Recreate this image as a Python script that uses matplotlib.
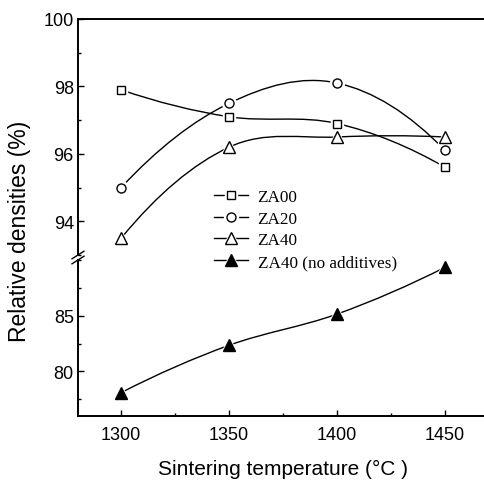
import numpy as np
import matplotlib
matplotlib.use("Agg")
import matplotlib.pyplot as plt
from matplotlib.path import Path
from matplotlib.patches import PathPatch
from matplotlib.lines import Line2D
from matplotlib.legend_handler import HandlerTuple
from matplotlib.ticker import MultipleLocator

# sintering temperature (C) and relative density (%)
temps = [1300, 1350, 1400, 1450]
za00 = [97.9, 97.1, 96.9, 95.6]
za20 = [95.0, 97.5, 98.1, 96.1]
za40 = [93.5, 96.2, 96.5, 96.5]
za40_noadd = [78.1, 82.35, 85.15, 89.35]
labels = ["ZA00", "ZA20", "ZA40", "ZA40 (no additives)"]


def smooth_path(x, y):
    # cubic bezier through the data points (spline-like connecting line)
    x = np.asarray(x, float)
    y = np.asarray(y, float)
    n = len(x)
    m = np.zeros(n)
    m[1:-1] = (y[2:] - y[:-2]) / (x[2:] - x[:-2])
    m[0] = 2 * (y[1] - y[0]) / (x[1] - x[0]) - m[1]
    m[-1] = 2 * (y[-1] - y[-2]) / (x[-1] - x[-2]) - m[-2]
    verts = [(x[0], y[0])]
    codes = [Path.MOVETO]
    for i in range(n - 1):
        h = x[i + 1] - x[i]
        verts += [(x[i] + h / 3, y[i] + m[i] * h / 3),
                  (x[i + 1] - h / 3, y[i + 1] - m[i + 1] * h / 3),
                  (x[i + 1], y[i + 1])]
        codes += [Path.CURVE4] * 3
    return Path(verts, codes)


W, H = 484, 481
fig = plt.figure(figsize=(W / 100, H / 100), dpi=100)
left, right = 78 / W, 1.0
ax_top = fig.add_axes([left, 1 - 256 / H, right - left, 236 / H])
ax_bot = fig.add_axes([left, 1 - 417 / H, right - left, 156 / H])

sans = "Liberation Sans"
serif = "Liberation Serif"

series = [
    (ax_top, za00, "s", 5.5, "white"),
    (ax_top, za20, "o", 6.5, "white"),
    (ax_top, za40, "^", 8, "white"),
    (ax_bot, za40_noadd, "^", 8.5, "black"),
]

handles = []
for ax, vals, mk, ms, fc in series:
    ax.add_patch(PathPatch(smooth_path(temps, vals), fc="none", ec="black",
                           lw=1.0, zorder=2))
    ax.plot(temps, vals, ls="none", marker=mk, ms=ms + 3.5, mfc="white",
            mec="white", zorder=3)
    ax.plot(temps, vals, ls="none", marker=mk, ms=ms, mfc=fc, mec="black",
            mew=1.0, zorder=4)
    h1 = Line2D([], [], color="black", lw=1.0, marker=mk, ms=ms + 3.5,
                mfc="white", mec="white")
    h2 = Line2D([], [], ls="none", marker=mk, ms=ms, mfc=fc, mec="black", mew=1.0)
    handles.append((h1, h2))

for ax in (ax_top, ax_bot):
    ax.set_xlim(1280, 1468)
    ax.spines["right"].set_visible(False)
    for s in ax.spines.values():
        s.set_linewidth(1.4)
    ax.tick_params(which="both", direction="in", right=False, top=False,
                   labelsize=13, width=1.0, pad=3)
    ax.tick_params(which="major", length=4)
    ax.tick_params(which="minor", length=2.5)

ax_top.set_ylim(93, 100)
ax_top.set_yticks([94, 96, 98, 100])
ax_top.yaxis.set_minor_locator(MultipleLocator(1))
ax_top.spines["bottom"].set_visible(False)
ax_top.tick_params(axis="x", which="both", bottom=False, labelbottom=False)

ax_bot.set_ylim(76, 90)
ax_bot.set_yticks([80, 85])
ax_bot.yaxis.set_minor_locator(MultipleLocator(2.5))
ax_bot.spines["top"].set_visible(False)
ax_bot.set_xticks(temps)
ax_bot.xaxis.set_minor_locator(MultipleLocator(25))
ax_bot.tick_params(axis="x", pad=7)

for ax in (ax_top, ax_bot):
    for lab in ax.get_yticklabels() + ax.get_xticklabels():
        lab.set_fontfamily(sans)

# axis break marks
for yc in (256, 261):
    fig.add_artist(Line2D([(78 - 6) / W, (78 + 6) / W],
                          [1 - (yc + 3.8) / H, 1 - (yc - 3.8) / H],
                          color="black", lw=1.0, transform=fig.transFigure))

fig.legend(handles, labels, handler_map={tuple: HandlerTuple(ndivide=1)},
           loc="upper left", bbox_to_anchor=(214 / W, 1 - 190 / H),
           frameon=False, prop={"family": serif, "size": 12.3},
           handlelength=2.0, handletextpad=0.55, labelspacing=0.33,
           borderpad=0, borderaxespad=0)

fig.text(20 / W, 1 - 231 / H, "Relative densities (%)", rotation=90,
         ha="center", va="center", fontsize=16.5, family=sans)
fig.text(283.5 / W, 1 - 469 / H, "Sintering temperature (\u00b0C )",
         ha="center", va="center", fontsize=15, family=sans)

fig.savefig("out.png", dpi=100)
